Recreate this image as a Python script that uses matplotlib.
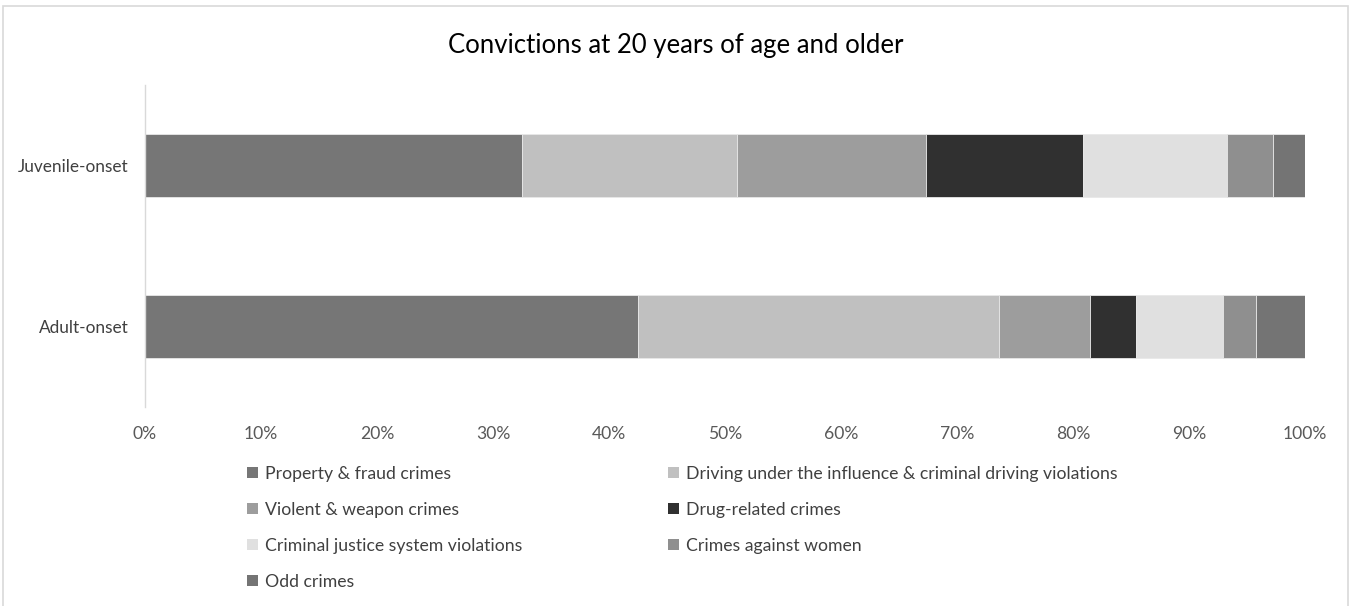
import matplotlib
matplotlib.use("Agg")
import matplotlib.pyplot as plt
from matplotlib.patches import Patch, Rectangle
from matplotlib.ticker import PercentFormatter

plt.rcParams['font.family'] = ['Lato', 'DejaVu Sans']

groups = ["Juvenile-onset", "Adult-onset"]
categories = [
    "Property & fraud crimes",
    "Driving under the influence & criminal driving violations",
    "Violent & weapon crimes",
    "Drug-related crimes",
    "Criminal justice system violations",
    "Crimes against women",
    "Odd crimes",
]
juvenile = [32.5, 18.5, 16.3, 13.6, 12.4, 3.9, 2.8]
adult = [42.5, 31.1, 7.9, 3.9, 7.5, 2.9, 4.2]
colors = ["#767676", "#c0c0c0", "#9d9d9d", "#303030", "#e0e0e0", "#8f8f8f", "#747474"]
xticks = [0, 10, 20, 30, 40, 50, 60, 70, 80, 90, 100]

W, H = 1352, 606
fig = plt.figure(figsize=(W / 100, H / 100), dpi=100)
fig.patch.set_facecolor("white")

ax = fig.add_axes([145 / W, 1 - 407 / H, 1160 / W, 322 / H])
ypos = [0, 1]
values = [juvenile, adult]
lefts = [0, 0]
for i, cat in enumerate(categories):
    widths = [values[0][i], values[1][i]]
    ax.barh(ypos, widths, left=lefts, height=0.39, color=colors[i],
            edgecolor="#e8e8e8", linewidth=0.6, label=cat)
    lefts = [lefts[0] + widths[0], lefts[1] + widths[1]]

ax.set_xlim(0, 100)
ax.set_ylim(1.5, -0.5)
ax.set_yticks(ypos)
ax.set_yticklabels(groups, fontsize=12.4, color="#404040")
ax.set_xticks(xticks)
ax.xaxis.set_major_formatter(PercentFormatter(decimals=0))
ax.tick_params(axis="x", labelsize=12.6, labelcolor="#595959", length=0, pad=14)
ax.tick_params(axis="y", length=0, pad=12)
for s in ["top", "right", "bottom"]:
    ax.spines[s].set_visible(False)
ax.spines["left"].set_color("#d9d9d9")
ax.spines["left"].set_linewidth(1)

fig.text(676 / W, 1 - 45 / H, "Convictions at 20 years of age and older",
         ha="center", va="center", fontsize=18.5, color="#000000")

handles = [Patch(facecolor=c, edgecolor="none") for c in colors]
col1 = [0, 2, 4, 6]
col2 = [1, 3, 5]
common = dict(frameon=False, fontsize=12.7, handlelength=0.6, handleheight=0.6,
              handletextpad=0.4, borderpad=0, borderaxespad=0, labelspacing=1.13,
              labelcolor="#404040", loc="upper left")
leg1 = fig.legend([handles[i] for i in col1], [categories[i] for i in col1],
                  bbox_to_anchor=(247 / W, 1 - 466 / H), **common)
leg2 = fig.legend([handles[i] for i in col2], [categories[i] for i in col2],
                  bbox_to_anchor=(668 / W, 1 - 466 / H), **common)

fig.patches.append(Rectangle((3 / W, -0.05), (1348 - 3) / W, (606 - 6) / H + 0.05,
                             transform=fig.transFigure, fill=False,
                             edgecolor="#d9d9d9", linewidth=1.2))

fig.savefig("out.png", dpi=100)
